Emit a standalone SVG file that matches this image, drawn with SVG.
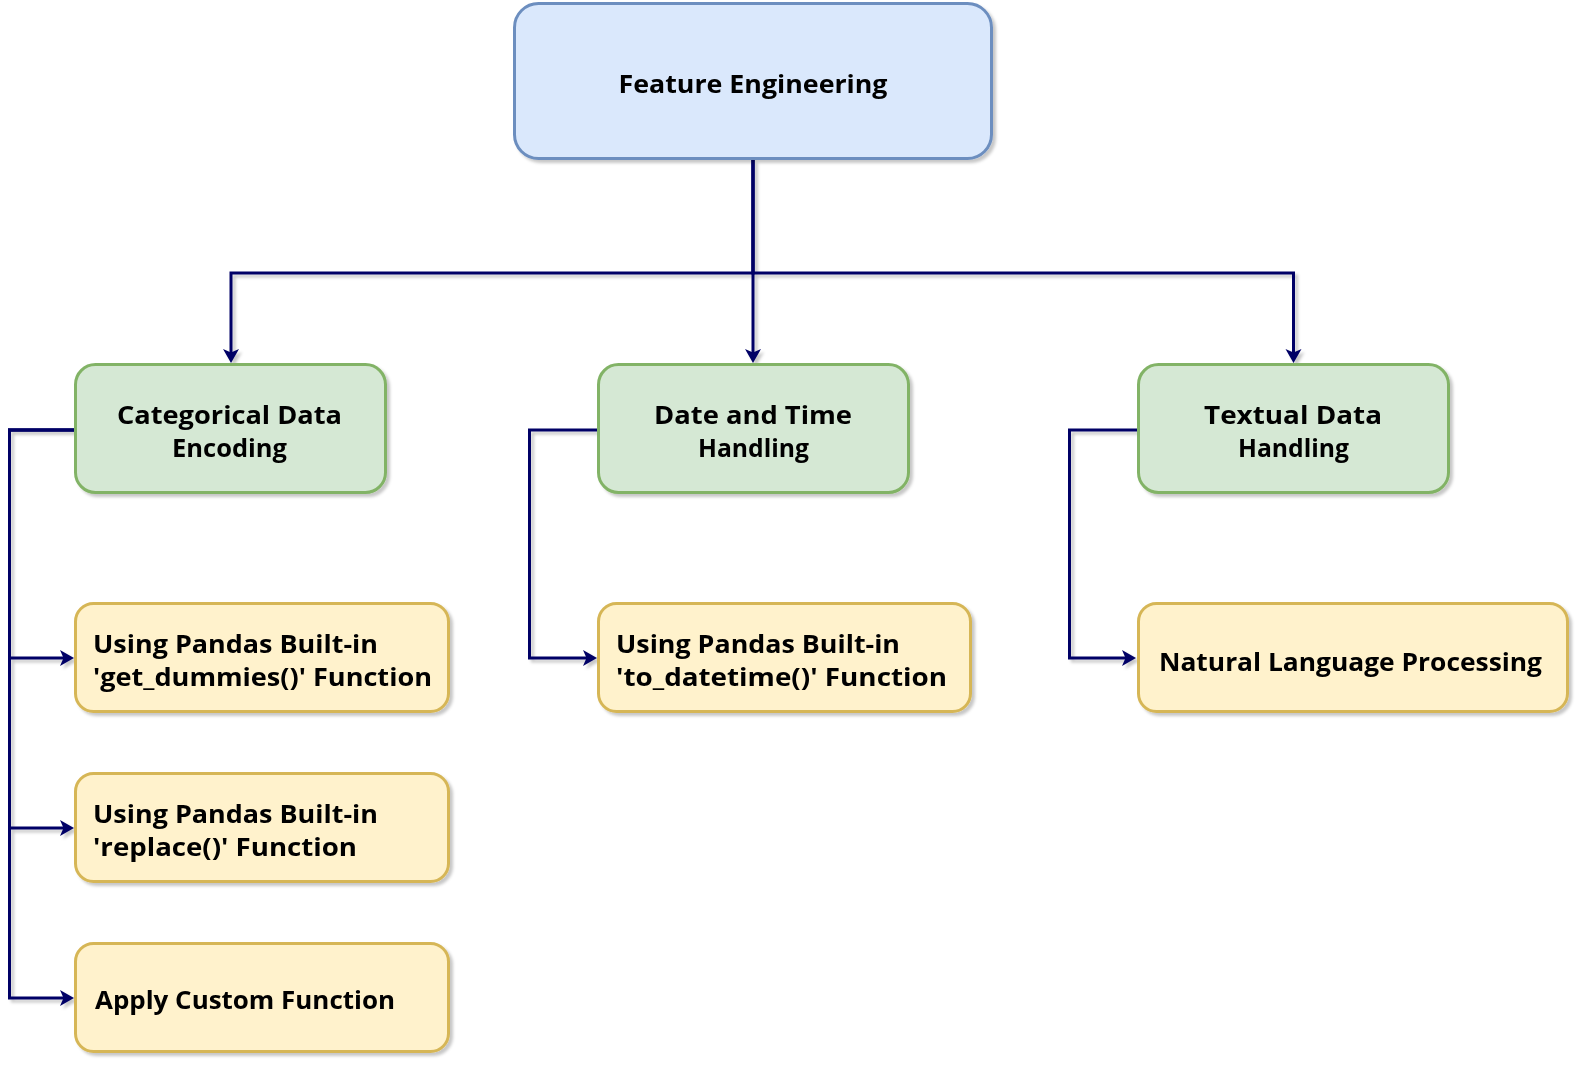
<svg xmlns="http://www.w3.org/2000/svg" width="1582" height="1065" viewBox="0 0 1582 1065">
<defs>
<style>
.blue{fill:#dae8fc;stroke:#6c8ebf;stroke-width:3}
.green{fill:#d5e8d4;stroke:#82b366;stroke-width:3}
.yellow{fill:#fff2cc;stroke:#d6b656;stroke-width:3}
.lbl{font-family:"Open Sans","Liberation Sans",sans-serif;font-weight:700;font-size:25px;fill:#000}
.mid{text-anchor:middle}
.edge{fill:none;stroke:#000066;stroke-width:3;stroke-linejoin:miter}
</style>
<filter id="sh" x="-10%" y="-10%" width="130%" height="130%">
<feDropShadow dx="3" dy="3" stdDeviation="1.5" flood-color="#000" flood-opacity="0.22"/>
</filter>
<marker id="arr" markerUnits="userSpaceOnUse" markerWidth="15" markerHeight="18" viewBox="0 -9 15 18" refX="4" refY="0" orient="auto">
<path d="M0,-8 L14,0 L0,8 L3.5,0 Z" fill="#000066"/>
</marker>
</defs>

<g id="connectors" filter="url(#sh)">
<path class="edge" d="M753,160 V273 H231 V353" marker-end="url(#arr)"/>
<path class="edge" d="M753,160 V353" marker-end="url(#arr)"/>
<path class="edge" d="M753,160 V273 H1293.5 V353" marker-end="url(#arr)"/>
<path class="edge" d="M74,430 H9.5 V658 H64" marker-end="url(#arr)"/>
<path class="edge" d="M74,430 H9.5 V828 H64" marker-end="url(#arr)"/>
<path class="edge" d="M74,430 H9.5 V998 H64" marker-end="url(#arr)"/>
<path class="edge" d="M597,430 H529.5 V658 H587" marker-end="url(#arr)"/>
<path class="edge" d="M1137,430 H1069.5 V658 H1126" marker-end="url(#arr)"/>
</g>

<g id="feature-engineering" filter="url(#sh)">
<rect class="blue" x="514.5" y="3.5" width="477" height="155" rx="24"/>
<text class="lbl mid" x="753" y="93" textLength="269" lengthAdjust="spacingAndGlyphs">Feature Engineering</text>
</g>

<g id="categorical" filter="url(#sh)">
<rect class="green" x="75.5" y="364.5" width="310" height="128" rx="20"/>
<text class="lbl mid" x="229.5" y="424" textLength="225" lengthAdjust="spacingAndGlyphs">Categorical Data</text>
<text class="lbl mid" x="229.5" y="457" textLength="115" lengthAdjust="spacingAndGlyphs">Encoding</text>
</g>

<g id="datetime" filter="url(#sh)">
<rect class="green" x="598.5" y="364.5" width="310" height="128" rx="20"/>
<text class="lbl mid" x="753" y="424" textLength="198" lengthAdjust="spacingAndGlyphs">Date and Time</text>
<text class="lbl mid" x="753.5" y="457" textLength="111" lengthAdjust="spacingAndGlyphs">Handling</text>
</g>

<g id="textual" filter="url(#sh)">
<rect class="green" x="1138.5" y="364.5" width="310" height="128" rx="20"/>
<text class="lbl mid" x="1293" y="424" textLength="178" lengthAdjust="spacingAndGlyphs">Textual Data</text>
<text class="lbl mid" x="1293.5" y="457" textLength="111" lengthAdjust="spacingAndGlyphs">Handling</text>
</g>

<g id="get-dummies" filter="url(#sh)">
<rect class="yellow" x="75.5" y="603.5" width="373" height="108" rx="18"/>
<text class="lbl" x="93" y="653" textLength="285" lengthAdjust="spacingAndGlyphs">Using Pandas Built-in</text>
<text class="lbl" x="93" y="686" textLength="339" lengthAdjust="spacingAndGlyphs">'get_dummies()' Function</text>
</g>

<g id="replace" filter="url(#sh)">
<rect class="yellow" x="75.5" y="773.5" width="373" height="108" rx="18"/>
<text class="lbl" x="93" y="823" textLength="285" lengthAdjust="spacingAndGlyphs">Using Pandas Built-in</text>
<text class="lbl" x="93" y="856" textLength="264" lengthAdjust="spacingAndGlyphs">'replace()' Function</text>
</g>

<g id="apply-custom" filter="url(#sh)">
<rect class="yellow" x="75.5" y="943.5" width="373" height="108" rx="18"/>
<text class="lbl" x="95" y="1009" textLength="300" lengthAdjust="spacingAndGlyphs">Apply Custom Function</text>
</g>

<g id="to-datetime" filter="url(#sh)">
<rect class="yellow" x="598.5" y="603.5" width="372" height="108" rx="18"/>
<text class="lbl" x="616" y="653" textLength="284" lengthAdjust="spacingAndGlyphs">Using Pandas Built-in</text>
<text class="lbl" x="616" y="686" textLength="331" lengthAdjust="spacingAndGlyphs">'to_datetime()' Function</text>
</g>

<g id="nlp" filter="url(#sh)">
<rect class="yellow" x="1138.5" y="603.5" width="429" height="108" rx="18"/>
<text class="lbl" x="1159" y="671" textLength="383" lengthAdjust="spacingAndGlyphs">Natural Language Processing</text>
</g>
</svg>
